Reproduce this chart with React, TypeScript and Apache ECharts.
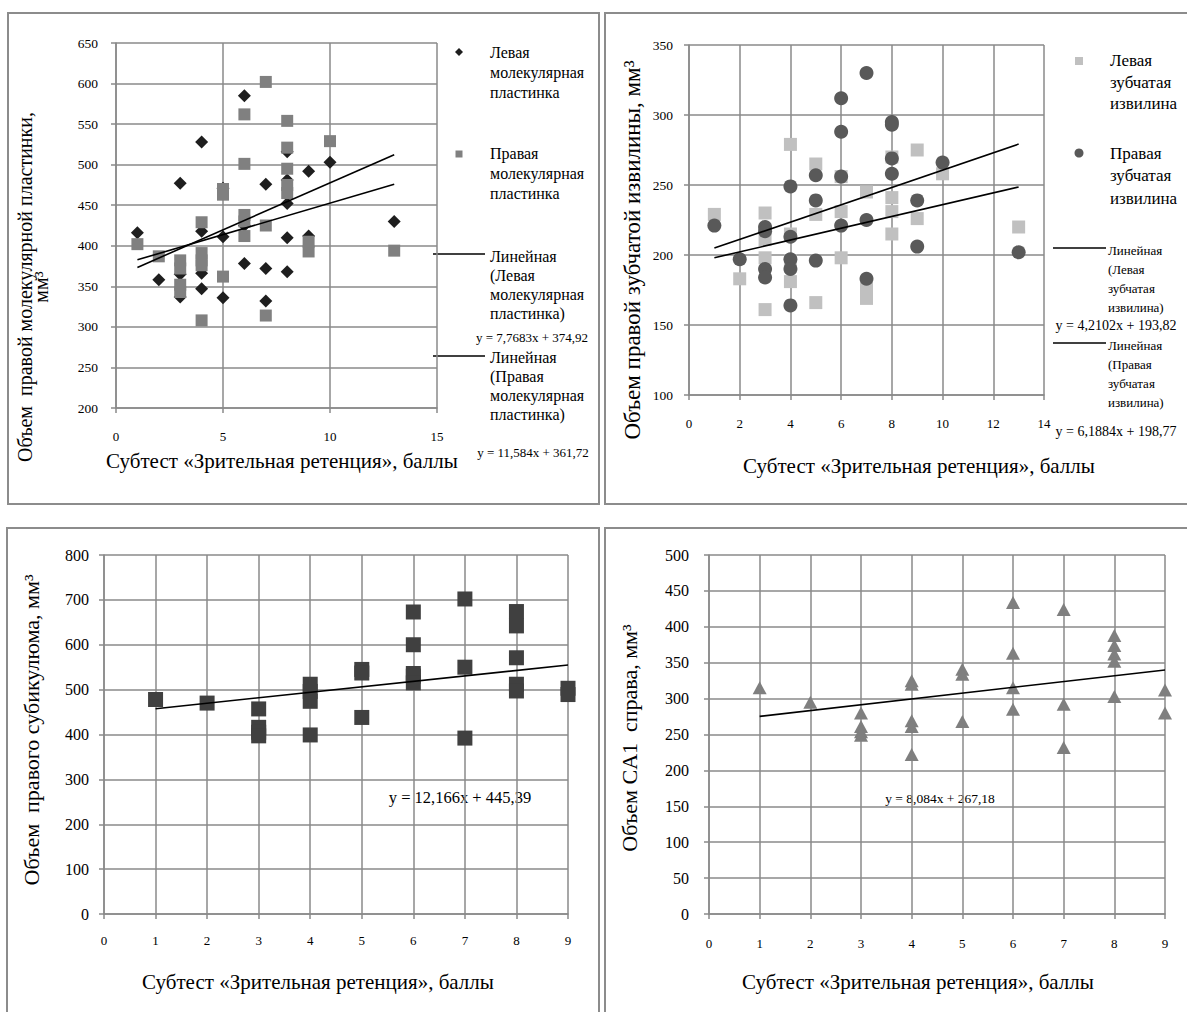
import React, { useEffect, useRef } from "react";
import * as echarts from "echarts";

const W = 1187;
const H = 1012;
const FONT = '"Liberation Serif", "Times New Roman", serif';
const GRID_C = "#8a8a8a";

// ---------- Panel 1: molecular layer ----------
const molLeft: [number, number][] = [
  [1, 416], [2, 358], [3, 477], [3, 365], [3, 337], [4, 528], [4, 418], [4, 366], [4, 347],
  [5, 411], [5, 336], [5, 471], [6, 585], [6, 425], [6, 378], [7, 476], [7, 372], [7, 332],
  [8, 516], [8, 481], [8, 452], [8, 410], [8, 368], [9, 492], [9, 412], [10, 503], [13, 430],
];
const molRight: [number, number][] = [
  [1, 402], [2, 387], [3, 382], [3, 372], [3, 352], [3, 343], [4, 429], [4, 391], [4, 382],
  [4, 376], [4, 308], [5, 470], [5, 463], [5, 362], [6, 562], [6, 501], [6, 438], [6, 430],
  [6, 412], [7, 602], [7, 425], [7, 314], [8, 554], [8, 521], [8, 495], [8, 475], [8, 465],
  [9, 405], [9, 393], [10, 529], [13, 394],
];
const molTrendLeft = [7.7683, 374.92];
const molTrendRight = [11.584, 361.72];

// ---------- Panel 2: dentate gyrus ----------
const dentLeft: [number, number][] = [
  [1, 229], [2, 183], [3, 230], [3, 211], [3, 198], [3, 161], [4, 279], [4, 215], [4, 196],
  [4, 181], [5, 265], [5, 229], [5, 166], [6, 256], [6, 231], [6, 198], [7, 245], [7, 176],
  [7, 169], [8, 270], [8, 241], [8, 231], [8, 215], [9, 275], [9, 226], [10, 258], [13, 220],
];
const dentRight: [number, number][] = [
  [1, 221], [2, 197], [3, 220], [3, 217], [3, 190], [3, 184], [4, 249], [4, 213], [4, 197],
  [4, 190], [4, 164], [5, 257], [5, 239], [5, 196], [6, 312], [6, 288], [6, 256], [6, 221],
  [7, 330], [7, 225], [7, 183], [8, 295], [8, 293], [8, 269], [8, 258], [9, 239], [9, 206],
  [10, 266], [13, 202],
];
const dentTrendLeft = [4.2102, 193.82];
const dentTrendRight = [6.1884, 198.77];

// ---------- Panel 3: subiculum ----------
const subic: [number, number][] = [
  [1, 478], [2, 470], [3, 457], [3, 416], [3, 405], [3, 397], [4, 512], [4, 496], [4, 474],
  [4, 399], [5, 545], [5, 537], [5, 438], [6, 673], [6, 600], [6, 536], [6, 530], [6, 515],
  [7, 702], [7, 550], [7, 392], [8, 674], [8, 642], [8, 571], [8, 512], [8, 497], [9, 503], [9, 489],
];
const subicTrend = [12.166, 445.39];

// ---------- Panel 4: CA1 ----------
const ca1: [number, number][] = [
  [1, 315], [2, 295], [3, 280], [3, 261], [3, 254], [3, 249], [4, 325], [4, 320], [4, 269],
  [4, 261], [4, 222], [5, 341], [5, 334], [5, 268], [6, 434], [6, 363], [6, 315], [6, 285],
  [7, 424], [7, 292], [7, 232], [8, 388], [8, 374], [8, 362], [8, 352], [8, 303], [9, 312], [9, 280],
];
const ca1Trend = [8.084, 267.18];

const xTitle = "Субтест «Зрительная ретенция», баллы";

function trend(data: [number, number][], coef: number[]) {
  const xs = data.map((d) => d[0]);
  const x0 = Math.min(...xs);
  const x1 = Math.max(...xs);
  return [
    [x0, coef[0] * x0 + coef[1]],
    [x1, coef[0] * x1 + coef[1]],
  ];
}

function ax(gi: number, min: number, max: number, interval: number, fs: number, margin: number) {
  return {
    type: "value", gridIndex: gi, min, max, interval,
    axisLine: { show: true, lineStyle: { color: GRID_C, width: 1.5 } },
    axisTick: { show: true, length: 5, lineStyle: { color: GRID_C, width: 1.5 } },
    splitLine: { show: true, lineStyle: { color: GRID_C, width: 1.5 } },
    axisLabel: { fontSize: fs, fontFamily: FONT, color: "#000", margin },
  };
}

function txt(x: number, y: number, text: string, fs: number, align = "left", va = "middle", lh?: number, rot = 0) {
  return {
    type: "text", x, y, rotation: rot, silent: true,
    style: {
      text, fontSize: fs, fontFamily: FONT, fill: "#000",
      align, verticalAlign: va, textAlign: align, textVerticalAlign: va,
      lineHeight: lh,
    },
  };
}
function border(x: number, y: number, w: number, h: number) {
  return {
    type: "rect", shape: { x, y, width: w, height: h }, silent: true,
    style: { fill: "none", stroke: "#8c8c8c", lineWidth: 2 },
  };
}
function lineSample(x1: number, x2: number, y: number) {
  return { type: "line", shape: { x1, y1: y, x2, y2: y }, silent: true, style: { stroke: "#000", lineWidth: 1.5 } };
}

function scatter(name: string, gi: number, data: [number, number][], symbol: string, size: any, color: string) {
  return {
    name, type: "scatter", xAxisIndex: gi, yAxisIndex: gi, data, symbol, symbolSize: size,
    itemStyle: { color, opacity: 1 }, silent: true,
  };
}
function trendSeries(name: string, gi: number, data: [number, number][], coef: number[]) {
  return {
    name, type: "line", xAxisIndex: gi, yAxisIndex: gi, data: trend(data, coef),
    symbol: "none", lineStyle: { color: "#000", width: 1.6 }, silent: true, z: 5,
  };
}

const option: any = {
  animation: false,
  backgroundColor: "#fff",
  grid: [
    { left: 116, top: 43, width: 321, height: 365 },
    { left: 689, top: 45, width: 355, height: 350 },
    { left: 104, top: 555, width: 464, height: 359 },
    { left: 709, top: 555, width: 456, height: 359 },
  ],
  xAxis: [
    ax(0, 0, 15, 5, 13, 22),
    ax(1, 0, 14, 2, 13, 22),
    ax(2, 0, 9, 1, 13, 20),
    ax(3, 0, 9, 1, 13, 23),
  ],
  yAxis: [
    ax(0, 200, 650, 50, 13.5, 18),
    ax(1, 100, 350, 50, 13.5, 16),
    ax(2, 0, 800, 100, 16, 15),
    ax(3, 0, 500, 50, 16, 20),
  ],
  series: [
    scatter("Левая молекулярная пластинка", 0, molLeft, "diamond", [13, 13], "#1e1e1e"),
    scatter("Правая молекулярная пластинка", 0, molRight, "rect", [12, 12], "#808080"),
    trendSeries("Линейная (Левая молекулярная пластинка)", 0, molLeft, molTrendLeft),
    trendSeries("Линейная (Правая молекулярная пластинка)", 0, molRight, molTrendRight),
    scatter("Левая зубчатая извилина", 1, dentLeft, "rect", [13, 13], "#c0c0c0"),
    scatter("Правая зубчатая извилина", 1, dentRight, "circle", 14, "#595959"),
    trendSeries("Линейная (Левая зубчатая извилина)", 1, dentLeft, dentTrendLeft),
    trendSeries("Линейная (Правая зубчатая извилина)", 1, dentRight, dentTrendRight),
    scatter("Правый субикулюм", 2, subic, "rect", [15, 15], "#404040"),
    trendSeries("Линейная (субикулюм)", 2, subic, subicTrend),
    scatter("CA1 справа", 3, ca1, "triangle", [14, 13], "#7f7f7f"),
    trendSeries("Линейная (CA1)", 3, ca1, ca1Trend),
  ],
  graphic: [
    border(8, 13, 591, 491),
    border(605, 13, 620, 491),
    border(7, 528, 592, 520),
    border(605, 528, 620, 520),

    // Panel 1 titles
    txt(32.5, 287, "Объем  правой молекулярной пластинки,\nмм³", 20, "center", "middle", 16, Math.PI / 2),
    txt(282, 461, xTitle, 21, "center", "middle"),
    // Panel 1 legend
    { type: "polygon", shape: { points: [[459, 48], [463, 52], [459, 56], [455, 52]] }, style: { fill: "#1e1e1e" }, silent: true },
    { type: "rect", shape: { x: 455.5, y: 150.5, width: 7, height: 7 }, style: { fill: "#808080" }, silent: true },
    txt(490, 42, "Левая\nмолекулярная\nпластинка", 16, "left", "top", 20),
    txt(490, 143, "Правая\nмолекулярная\nпластинка", 16, "left", "top", 20),
    lineSample(433, 485, 254),
    txt(490, 247, "Линейная\n(Левая\nмолекулярная\nпластинка)", 16, "left", "top", 19),
    txt(532, 337, "y = 7,7683x + 374,92", 13, "center", "middle"),
    lineSample(433, 485, 356),
    txt(490, 348, "Линейная\n(Правая\nмолекулярная\nпластинка)", 16, "left", "top", 19),
    txt(533, 452, "y = 11,584x + 361,72", 13, "center", "middle"),

    // Panel 2 titles
    txt(632, 250, "Объем правой зубчатой извилины, мм³", 23, "center", "middle", undefined, Math.PI / 2),
    txt(919, 466, xTitle, 21, "center", "middle"),
    // Panel 2 legend
    { type: "rect", shape: { x: 1075, y: 57, width: 8, height: 8 }, style: { fill: "#c0c0c0" }, silent: true },
    { type: "circle", shape: { cx: 1079, cy: 153, r: 4.5 }, style: { fill: "#595959" }, silent: true },
    txt(1110, 50, "Левая\nзубчатая\nизвилина", 17, "left", "top", 21.5),
    txt(1110, 142, "Правая\nзубчатая\nизвилина", 17, "left", "top", 22.5),
    lineSample(1053, 1106, 248),
    txt(1108, 240.5, "Линейная\n(Левая\nзубчатая\nизвилина)", 13, "left", "top", 19),
    txt(1116, 325, "y = 4,2102x + 193,82", 14, "center", "middle"),
    lineSample(1053, 1106, 343),
    txt(1108, 335.5, "Линейная\n(Правая\nзубчатая\nизвилина)", 13, "left", "top", 19),
    txt(1116, 431, "y = 6,1884x + 198,77", 14, "center", "middle"),

    // Panel 3
    txt(31, 730, "Объем  правого субикулюма, мм³", 22, "center", "middle", undefined, Math.PI / 2),
    txt(318, 982, xTitle, 21, "center", "middle"),
    txt(460, 797, "y = 12,166x + 445,39", 16.5, "center", "middle"),

    // Panel 4
    txt(629, 738, "Объем CA1  справа, мм³", 22, "center", "middle", undefined, Math.PI / 2),
    txt(918, 982, xTitle, 21, "center", "middle"),
    txt(940, 798, "y = 8,084x + 267,18", 13.5, "center", "middle"),
  ],
};

export default function App() {
  const ref = useRef<HTMLDivElement>(null);
  useEffect(() => {
    const chart = echarts.init(ref.current!, null, { renderer: "svg", width: W, height: H });
    chart.setOption(option);
    return () => chart.dispose();
  }, []);
  return (
    <div
      ref={ref}
      style={{ position: "absolute", left: 0, top: 0, width: W, height: H, background: "#fff" }}
    />
  );
}
